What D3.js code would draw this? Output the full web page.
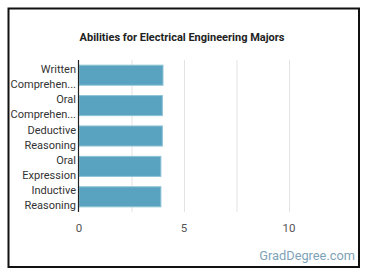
<!DOCTYPE html>
<html>
<head>
<meta charset="utf-8">
<script src="https://cdn.jsdelivr.net/npm/d3@7"></script>
<style>
  body { margin: 0; background: #fff; }
  svg { font-family: Roboto, "Noto Sans", sans-serif; }
</style>
</head>
<body>
<svg id="chart" width="370" height="278"></svg>
<script>
var categories = [
  ["Written", "Comprehen..."],
  ["Oral", "Comprehen..."],
  ["Deductive", "Reasoning"],
  ["Oral", "Expression"],
  ["Inductive", "Reasoning"]
];
var values = [4.0, 3.97, 3.97, 3.9, 3.9];
var tickValues = [0, 5, 10];
var gridValues = [2.5, 5, 7.5, 10];

var svg = d3.select('#chart');

// frame
svg.append('rect')
    .attr('x', 8.5).attr('y', 8.5)
    .attr('width', 350.5).attr('height', 258.5)
    .attr('fill', '#fff')
    .attr('stroke', '#111')
    .attr('stroke-width', 2);

svg.append('text')
    .attr('x', 182).attr('y', 40.5)
    .attr('text-anchor', 'middle')
    .attr('font-size', 11)
    .attr('font-weight', 'bold')
    .attr('fill', '#222')
    .text('Abilities for Electrical Engineering Majors');

var margin = { top: 60, left: 79 };
var chartHeight = 152;

var xScale = d3.scaleLinear()
    .domain([0, 12.5])
    .range([margin.left, margin.left + 262.5]);

var yScale = d3.scaleBand()
    .domain(d3.range(categories.length))
    .range([margin.top, margin.top + chartHeight])
    .paddingInner(0.34)
    .paddingOuter(0.17);

// grid
svg.append('g')
    .selectAll('line')
    .data(gridValues)
    .enter().append('line')
    .attr('x1', function(d) { return xScale(d) + 0.5; })
    .attr('x2', function(d) { return xScale(d) + 0.5; })
    .attr('y1', margin.top)
    .attr('y2', margin.top + chartHeight)
    .attr('stroke', '#e3e3e3')
    .attr('stroke-width', 1);

// bars
svg.append('g')
    .selectAll('rect')
    .data(values)
    .enter().append('rect')
    .attr('x', xScale(0))
    .attr('y', function(d, i) { return yScale(i); })
    .attr('width', function(d) { return xScale(d) - xScale(0); })
    .attr('height', yScale.bandwidth())
    .attr('fill', '#5aa3c0')
    .attr('stroke', '#8fc3d6')
    .attr('stroke-width', 1);

// y axis line
svg.append('line')
    .attr('x1', margin.left - 0.5).attr('x2', margin.left - 0.5)
    .attr('y1', margin.top).attr('y2', margin.top + chartHeight)
    .attr('stroke', '#222')
    .attr('stroke-width', 1.2);

// category labels
var labels = svg.append('g')
    .selectAll('text')
    .data(categories)
    .enter().append('text')
    .attr('text-anchor', 'end')
    .attr('font-size', 11)
    .attr('fill', '#333')
    .attr('y', function(d, i) { return yScale(i) + yScale.bandwidth() / 2; });

labels.selectAll('tspan')
    .data(function(d) { return d; })
    .enter().append('tspan')
    .attr('x', margin.left - 3)
    .attr('dy', function(d, i) { return i === 0 ? -2.5 : 15; })
    .text(function(d) { return d; });

// x tick labels
svg.append('g')
    .selectAll('text')
    .data(tickValues)
    .enter().append('text')
    .attr('x', function(d) { return xScale(d); })
    .attr('y', 232)
    .attr('text-anchor', 'middle')
    .attr('font-size', 11.5)
    .attr('fill', '#555')
    .text(function(d) { return d; });

svg.append('text')
    .attr('x', 355).attr('y', 260)
    .attr('text-anchor', 'end')
    .attr('font-size', 12.8)
    .attr('fill', '#7ea3b8')
    .text('GradDegree.com');
</script>
</body>
</html>
